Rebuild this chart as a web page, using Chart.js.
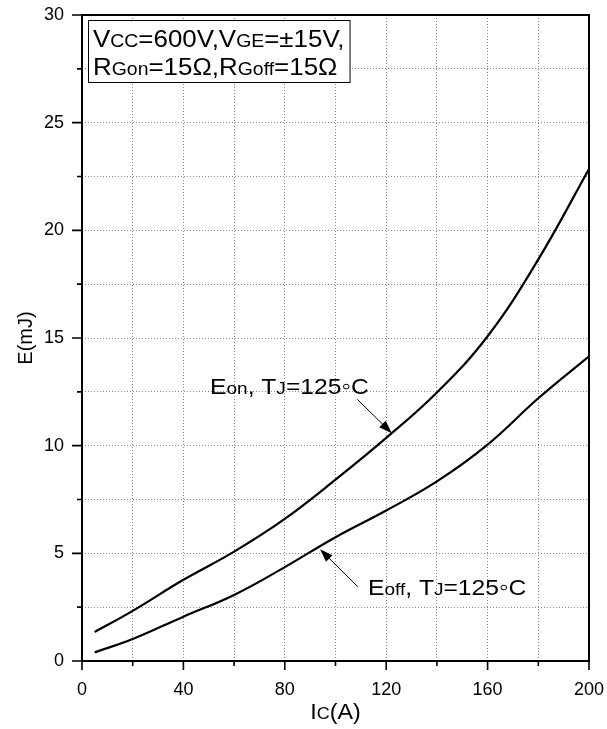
<!DOCTYPE html>
<html>
<head>
<meta charset="utf-8">
<script src="https://cdn.jsdelivr.net/npm/chart.js@4.4.0/dist/chart.umd.min.js"></script>
<style>
  html, body { margin: 0; padding: 0; background: #fff; }
  #wrap { width: 607px; height: 729px; }
</style>
</head>
<body>
<div id="wrap"><canvas id="c" width="607" height="729"></canvas></div>
<script>
// Switching energy vs. collector current at Tj = 125 °C
const currentA = [5, 20, 40, 60, 80, 100, 120, 140, 160, 180, 200];
const eonMJ    = [1.35, 2.33, 3.77, 5.08, 6.60, 8.42, 10.36, 12.47, 15.08, 18.65, 22.85];
const eoffMJ   = [0.40, 1.02, 2.06, 3.07, 4.36, 5.75, 6.99, 8.34, 10.05, 12.20, 14.15];
const xTickLabels = ['0', '40', '80', '120', '160', '200'];
const yTickLabels = ['0', '5', '10', '15', '20', '25', '30'];

const FAMILY = '"Liberation Sans", Arial, "DejaVu Sans", sans-serif';

function toPoints(xs, ys) {
  return xs.map((v, i) => ({ x: v, y: ys[i] }));
}

// text made of runs of different sizes (subscripts share the baseline),
// optionally stretched horizontally by sx
function runsWidth(ctx, runs, sx = 1) {
  let w = 0;
  for (const [t, s] of runs) {
    ctx.font = s + 'px ' + FAMILY;
    w += ctx.measureText(t).width;
  }
  return w * sx;
}
function drawRuns(ctx, x, yb, runs, sx = 1) {
  ctx.save();
  ctx.translate(x, yb);
  ctx.scale(sx, 1);
  ctx.textBaseline = 'alphabetic';
  ctx.textAlign = 'left';
  let cx = 0;
  for (const [t, s] of runs) {
    ctx.font = s + 'px ' + FAMILY;
    ctx.fillText(t, cx, 0);
    cx += ctx.measureText(t).width;
  }
  ctx.restore();
}
function arrow(ctx, x0, y0, x1, y1) {
  const ang = Math.atan2(y1 - y0, x1 - x0);
  const len = 13, half = 4.6;
  const c = Math.cos(ang), s = Math.sin(ang);
  ctx.lineWidth = 1;
  ctx.beginPath();
  ctx.moveTo(x0, y0);
  ctx.lineTo(x1 - c * len * 0.8, y1 - s * len * 0.8);
  ctx.stroke();
  ctx.beginPath();
  ctx.moveTo(x1, y1);
  ctx.lineTo(x1 - c * len - s * half, y1 - s * len + c * half);
  ctx.lineTo(x1 - c * len + s * half, y1 - s * len - c * half);
  ctx.closePath();
  ctx.fill();
}

const decorations = {
  id: 'decorations',
  afterDraw(chart) {
    const { ctx, chartArea: a, scales: { x, y } } = chart;
    ctx.save();
    ctx.strokeStyle = '#000';
    ctx.fillStyle = '#000';

    // plot frame
    ctx.lineWidth = 2;
    ctx.strokeRect(a.left, a.top, a.right - a.left, a.bottom - a.top);

    // outward tick marks: long where labelled, short in between
    ctx.lineWidth = 1.6;
    ctx.beginPath();
    x.ticks.forEach(t => {
      const px = x.getPixelForValue(t.value);
      const len = xTickLabels.includes(String(t.value)) ? 9 : 5;
      ctx.moveTo(px, a.bottom);
      ctx.lineTo(px, a.bottom + len);
    });
    y.ticks.forEach(t => {
      const py = y.getPixelForValue(t.value);
      const len = yTickLabels.includes(String(t.value)) ? 10 : 5;
      ctx.moveTo(a.left, py);
      ctx.lineTo(a.left - len, py);
    });
    ctx.stroke();

    // test-condition box
    const line1 = [['V', 24], ['CC', 18], ['=600V,V', 24], ['GE', 18], ['=\u00B115V,', 24]];
    const line2 = [['R', 24], ['Gon', 18], ['=15\u03A9,R', 24], ['Goff', 18], ['=15\u03A9', 24]];
    const sxBox = 1.08;
    const bx = a.left + 6, by = a.top + 5;
    const bw = Math.max(runsWidth(ctx, line1, sxBox), runsWidth(ctx, line2, sxBox)) + 10;
    ctx.fillStyle = '#fff';
    ctx.fillRect(bx, by, bw, 62);
    ctx.lineWidth = 1;
    ctx.strokeRect(bx + 0.5, by + 0.5, bw, 62);
    ctx.fillStyle = '#000';
    drawRuns(ctx, bx + 5, by + 27, line1, sxBox);
    drawRuns(ctx, bx + 5, by + 55, line2, sxBox);

    // curve annotations
    const sxNote = 1.12;
    const eonText = [['E', 22], ['on', 17], [', T', 22], ['J', 17], ['=125', 22], ['\u25E6', 24], ['C', 22]];
    const eoffText = [['E', 22], ['off', 17], [', T', 22], ['J', 17], ['=125', 22], ['\u25E6', 24], ['C', 22]];
    drawRuns(ctx, x.getPixelForValue(50.5), y.getPixelForValue(12.4), eonText, sxNote);
    drawRuns(ctx, x.getPixelForValue(112.8), y.getPixelForValue(3.07), eoffText, sxNote);
    arrow(ctx, x.getPixelForValue(108.6), y.getPixelForValue(12.15),
               x.getPixelForValue(122.2), y.getPixelForValue(10.58));
    arrow(ctx, x.getPixelForValue(108.8), y.getPixelForValue(3.45),
               x.getPixelForValue(93.9), y.getPixelForValue(5.19));

    // x-axis title with subscript
    const xt = [['I', 22], ['C', 17], ['(A)', 22]];
    const cx = (a.left + a.right) / 2;
    drawRuns(ctx, cx - runsWidth(ctx, xt, 1.06) / 2, 719, xt, 1.06);

    ctx.restore();
  }
};

new Chart(document.getElementById('c'), {
  type: 'line',
  data: {
    datasets: [
      {
        label: 'Eon',
        data: toPoints(currentA, eonMJ),
        borderColor: '#000',
        borderWidth: 2.2,
        pointRadius: 0,
        tension: 0.4,
        fill: false
      },
      {
        label: 'Eoff',
        data: toPoints(currentA, eoffMJ),
        borderColor: '#000',
        borderWidth: 2.2,
        pointRadius: 0,
        tension: 0.4,
        fill: false
      }
    ]
  },
  options: {
    responsive: false,
    animation: false,
    devicePixelRatio: 1,
    layout: { padding: { top: 15, right: 18, left: 0, bottom: 0 } },
    plugins: { legend: { display: false }, tooltip: { enabled: false } },
    scales: {
      x: {
        type: 'linear',
        min: 0, max: 200,
        grid: { color: '#8a8a8a', lineWidth: 1, drawTicks: false },
        border: { display: false, dash: [1, 2] },
        ticks: {
          stepSize: 20,
          autoSkip: false,
          maxRotation: 0,
          padding: 18,
          color: '#000',
          font: { family: FAMILY, size: 18 },
          callback: v => xTickLabels.includes(String(v)) ? String(v) : ''
        },
        afterFit: s => { s.height = 68; s.paddingLeft = 0; s.paddingRight = 0; }
      },
      y: {
        type: 'linear',
        min: 0, max: 30,
        grid: { color: '#8a8a8a', lineWidth: 1, drawTicks: false },
        border: { display: false, dash: [1, 2] },
        ticks: {
          stepSize: 2.5,
          autoSkip: false,
          padding: 18,
          color: '#000',
          font: { family: FAMILY, size: 18 },
          callback: v => yTickLabels.includes(String(v)) ? String(v) : ''
        },
        title: {
          display: true,
          text: 'E(mJ)',
          color: '#000',
          font: { family: FAMILY, size: 20 },
          padding: { top: 14, bottom: 0 }
        },
        afterFit: s => { s.width = 82; s.paddingTop = 0; s.paddingBottom = 0; }
      }
    }
  },
  plugins: [decorations]
});
</script>
</body>
</html>
